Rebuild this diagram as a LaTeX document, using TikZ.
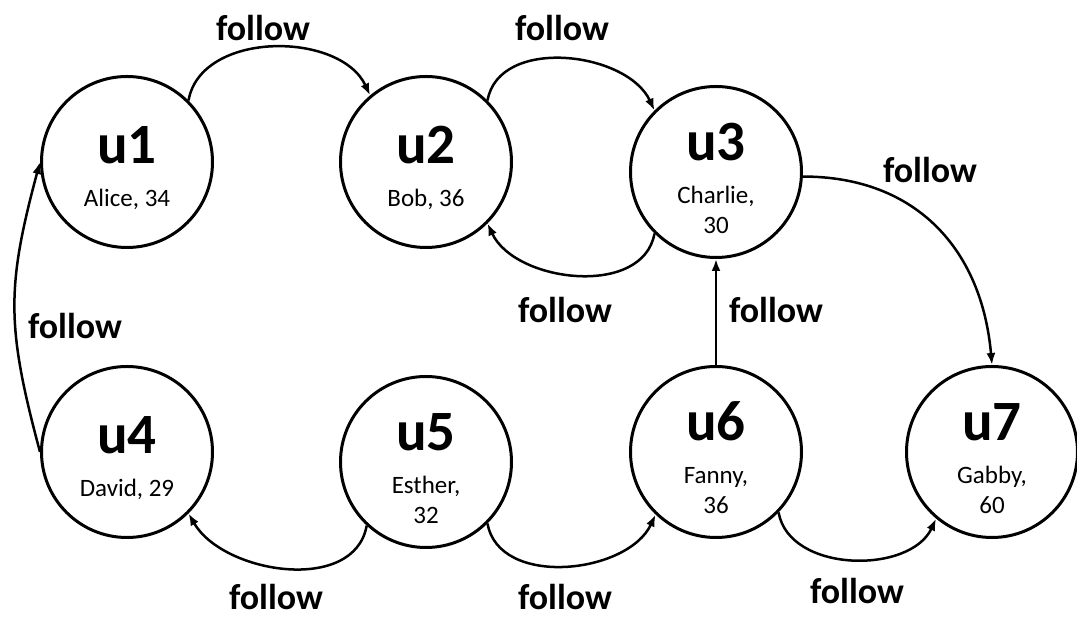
\documentclass[tikz,border=0pt]{standalone}
\usepackage{fontspec}
\setmainfont{Carlito}
\usetikzlibrary{arrows.meta}
\tikzset{
  user/.style={circle,draw,line width=3pt,minimum size=171pt,inner sep=0pt,
    align=center,font=\fontsize{25}{30}\selectfont},
  rel/.style={font=\fontsize{36}{40}\selectfont\bfseries},
  edge/.style={line width=2.5pt,-{Latex[length=12pt,width=9pt]}}
}
\newcommand{\usr}[2]{\rule{0pt}{50pt}{\fontsize{57}{57}\selectfont\bfseries #1}\\[13pt]#2}
\begin{document}
\begin{tikzpicture}[x=1pt,y=1pt]
\useasboundingbox (0,0) rectangle (1077,617);
% users
\node[user] (u1) at (127,455) {\usr{u1}{Alice, 34}};
\node[user] (u2) at (426,455) {\usr{u2}{Bob, 36}};
\node[user] (u3) at (716,445) {\usr{u3}{Charlie,\\30}};
\node[user] (u4) at (127,165) {\usr{u4}{David, 29}};
\node[user] (u5) at (426,155) {\usr{u5}{Esther,\\32}};
\node[user] (u6) at (716,165) {\usr{u6}{Fanny,\\36}};
\node[user] (u7) at (992,165) {\usr{u7}{Gabby,\\60}};
% follow edges
\draw[edge] (u1.45) to[out=80,in=115] (u2.130);
\draw[edge] (u2.45) to[out=80,in=115] (u3.135);
\draw[edge] (u3.-135) to[out=-100,in=-65] (u2.-45);
\draw[edge] (u3.-3) to[out=0,in=95,looseness=1.1] (u7.90);
\draw[edge] (u6.north) -- (u3.south);
\draw[edge] (u4.west) to[out=105,in=-105,looseness=1.15] (u1.west);
\draw[edge] (u5.-133) to[out=-100,in=-60] (u4.-45);
\draw[edge] (u5.-45) to[out=-80,in=-115] (u6.-134);
\draw[edge] (u6.-44) to[out=-80,in=-115] (u7.-130);
% labels
\node[rel] (f12) at (263,589) {follow};
\node[rel] (f23) at (562,589) {follow};
\node[rel] (f32) at (565,307) {follow};
\node[rel] (f37) at (930,447) {follow};
\node[rel] (f63) at (776,307) {follow};
\node[rel] (f41) at (75,291) {follow};
\node[rel] (f54) at (276,20) {follow};
\node[rel] (f56) at (565,20) {follow};
\node[rel] (f67) at (857,26) {follow};
\end{tikzpicture}
\end{document}
